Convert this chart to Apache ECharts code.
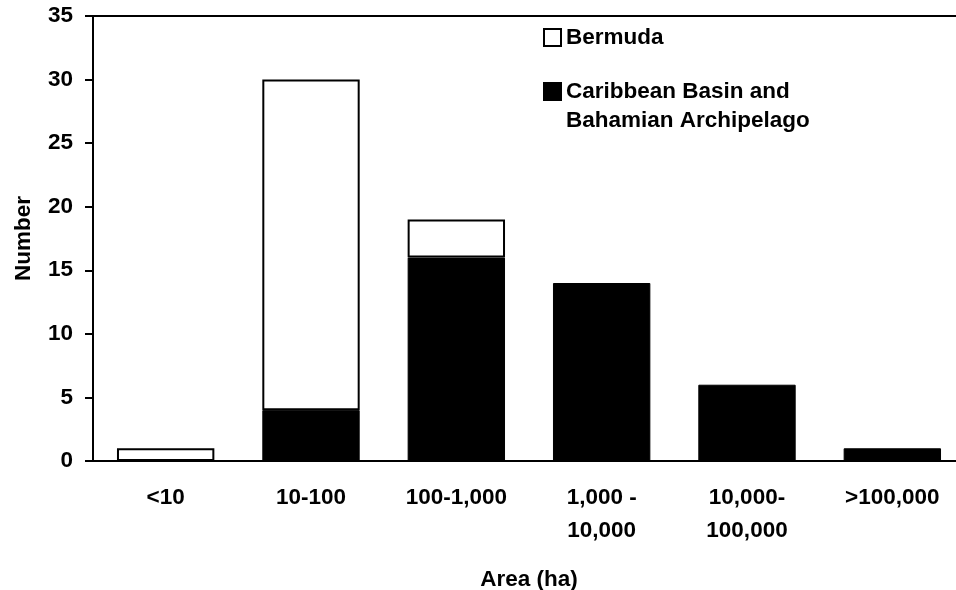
<!DOCTYPE html>
<html>
<head>
<meta charset="utf-8">
<script src="https://cdn.jsdelivr.net/npm/echarts@6/dist/echarts.min.js"></script>
<style>html,body{margin:0;padding:0;background:#fff}#c{width:956px;height:590px}</style>
</head>
<body>
<div id="c"></div>
<script>
const categories = ['<10', '10-100', '100-1,000', '1,000 -\n10,000', '10,000-\n100,000', '>100,000'];
const caribbean = [null, 4, 16, 14, 6, 1];
const bermuda = [1, 26, 3, null, null, null];
const yTicks = { min: 0, max: 35, interval: 5 };
const nameBermuda = 'Bermuda';
const nameCarib = 'Caribbean Basin and\nBahamian Archipelago';

const FONT = "'Liberation Sans', Arial, sans-serif";
const txt = { fontFamily: FONT, fontWeight: 'bold', fontSize: 22.5, color: '#000' };

const chart = echarts.init(document.getElementById('c'), null, { renderer: 'canvas' });
chart.setOption({
  animation: false,
  backgroundColor: '#fff',
  grid: { left: 93, top: 16, width: 872, height: 445, containLabel: false, outerBoundsMode: 'none',
          show: true, borderColor: '#000', borderWidth: 2, backgroundColor: 'transparent' },
  legend: [
    { data: [nameBermuda], left: 543, top: 26, orient: 'vertical', itemWidth: 17, itemHeight: 17, padding: 0,
      icon: 'rect', itemGap: 0, textStyle: Object.assign({}, txt) },
    { data: [nameCarib], left: 543, top: 48, orient: 'vertical', itemWidth: 17, itemHeight: 17, padding: 0,
      icon: 'rect', formatter: n => '\n' + n,
      textStyle: Object.assign({}, txt, { lineHeight: 29 }) }
  ],
  xAxis: {
    type: 'category', data: categories,
    name: 'Area (ha)', nameLocation: 'middle', nameGap: 107,
    nameTextStyle: Object.assign({}, txt),
    axisLine: { lineStyle: { color: '#000', width: 2 } },
    axisTick: { length: 8, lineStyle: { color: '#000', width: 2 } },
    axisLabel: Object.assign({}, txt, { interval: 0, margin: 20, lineHeight: 33 })
  },
  yAxis: {
    type: 'value', min: yTicks.min, max: yTicks.max, interval: yTicks.interval,
    name: 'Number', nameLocation: 'middle', nameGap: 58,
    nameTextStyle: Object.assign({}, txt),
    splitLine: { show: false },
    axisLine: { show: true, lineStyle: { color: '#000', width: 2 } },
    axisTick: { show: true, length: 8, lineStyle: { color: '#000', width: 2 } },
    axisLabel: Object.assign({}, txt, { margin: 20 })
  },
  series: [
    { name: nameCarib, type: 'bar', stack: 's', data: caribbean, barCategoryGap: '33%',
      itemStyle: { color: '#000', borderColor: '#000', borderWidth: 1 } },
    { name: nameBermuda, type: 'bar', stack: 's', data: bermuda, barCategoryGap: '33%',
      itemStyle: { color: '#fff', borderColor: '#000', borderWidth: 2 } }
  ]
});
</script>
</body>
</html>
